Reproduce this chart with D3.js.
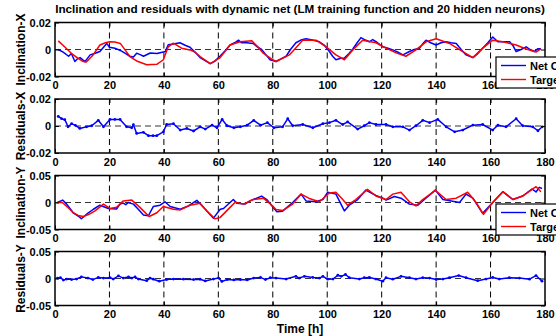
<!DOCTYPE html>
<html>
<head>
<script src="https://cdn.jsdelivr.net/npm/d3@7"></script>
<style>
  body { margin: 0; background: #fff; }
  text { font-family: "Liberation Sans", Arial, sans-serif; font-weight: bold; }
</style>
</head>
<body>
<script>
// [time h, value] pairs
var incXNet = [[1.2,0],[3,-0.002],[5,-0.005],[6,-0.003],[7.3,-0.0089],[8.2,-0.007],[9.2,-0.006],[11,-0.009],[12.9,-0.004],[14.5,-0.003],[16.5,-0.0015],[19,0.0045],[20,0.0017],[22,0.001],[24,-0.0007],[26,-0.003],[27.5,-0.005],[28.8,-0.0055],[30,-0.0027],[31.5,-0.004],[32.5,-0.005],[35,-0.0026],[37.4,-0.003],[39.8,-0.0018],[40.5,-0.0015],[41.6,0.0035],[43.5,0.004],[45.9,0.005],[48,0.003],[49.6,0.0017],[51.5,-0.002],[53.3,-0.006],[55,-0.008],[57,-0.0105],[58.5,-0.009],[60.6,-0.005],[62.5,-0.001],[64.3,0.0033],[66,0.005],[67.4,0.0069],[68.5,0.005],[70.4,0.005],[72.8,0.0045],[74.3,0.002],[75.9,0],[77.5,-0.004],[79,-0.0076],[81.2,-0.0089],[83,-0.007],[84.9,-0.005],[86.5,0],[88.5,0.005],[90.3,0.007],[92.2,0.008],[94.5,0.007],[97.1,0.0057],[99,0.003],[100.8,-0.0015],[102,-0.005],[103.2,-0.0076],[105,-0.0065],[106.3,-0.0064],[108,-0.003],[109.4,0.0004],[111,0.005],[112.4,0.0088],[114,0.007],[115.5,0.0057],[116.7,0.0074],[118.5,0.005],[120.4,0.002],[122.3,0.001],[124.1,-0.0003],[126,-0.002],[127.8,-0.004],[130.2,-0.0015],[132,0],[133.9,0.001],[135,0.004],[136.3,0.0069],[138,0.005],[140,0.0033],[141.8,0.005],[143.7,0.0057],[145.5,0.005],[147.4,0.0045],[149.2,0],[151,-0.004],[153.5,-0.006],[155.3,-0.003],[157.1,0.001],[159,0.005],[160.8,0.0093],[162.7,0.0057],[165,0.0057],[167,0.0057],[168.2,0.003],[169.4,-0.0015],[171.2,0],[173.1,0.002],[174.5,0],[176.1,-0.0015],[177.3,0.0005],[178.5,0.0006]];
var incXTarget = [[1.2,0.0064],[3.5,0.002],[6,-0.0028],[8.5,-0.0065],[10.4,-0.0089],[11.5,-0.0092],[14,-0.004],[16.5,0.0033],[18.5,0.005],[20,0.0057],[22,0.0055],[24,0.0045],[26,-0.001],[27.5,-0.0052],[30,-0.0085],[33.7,-0.0113],[37.4,-0.011],[39.8,-0.0076],[41.6,0.002],[43.5,0.0047],[46.5,0.001],[49.6,-0.0003],[51.5,-0.002],[53.3,-0.0052],[57,-0.0105],[60.6,-0.0062],[64.3,0.0033],[68,0.0057],[72.3,0.0064],[74.5,0.002],[76.5,-0.0027],[80,-0.0076],[81.2,-0.0089],[86.1,-0.004],[91,0.0069],[95.9,0.0069],[99.6,0.002],[103.2,-0.004],[106.3,-0.0076],[109.4,-0.0003],[113,0.0069],[117.9,0.005],[121.6,0.001],[125.3,-0.0025],[128.9,-0.005],[132.6,-0.0003],[136.3,0.0057],[140,0.008],[144.9,0.0045],[149.8,-0.0015],[153.5,-0.006],[157.1,0.001],[160.8,0.0069],[164.5,0.0057],[169.4,0.0033],[173.1,0.0004],[176.7,-0.0019],[178.5,0.0004]];
var resX = [[1.2,0.0071],[2.4,0.0054],[3.6,0.0047],[4.8,-0.0006],[6.1,0.0017],[7.5,0.0005],[9.1,-0.0018],[11.6,-0.0006],[13.5,0.0002],[15.9,0.0042],[17.8,-0.0006],[20.2,0.0049],[22,0.0049],[23.9,0.0049],[26.3,-0.0006],[28.2,-0.0013],[28.8,0.001],[30,-0.0055],[32.5,-0.0047],[34.3,-0.0072],[36,-0.0072],[37.4,-0.0072],[39.8,-0.0043],[41,0.0011],[43.5,0.0017],[46,-0.003],[48.4,-0.0018],[50.9,-0.0037],[53.3,-0.0006],[55.2,-0.0023],[57.7,0.0006],[59.5,-0.0013],[61.4,0.0049],[63.2,0.0002],[65.7,-0.0013],[68.1,-0.0006],[70.6,0.0006],[73,0.0042],[75.5,0.0006],[78,0.0025],[80.4,-0.0013],[83.6,-0.0006],[85.5,0.0054],[87.3,0.0002],[91,0.0011],[94.7,-0.0013],[98.4,0.0017],[100.8,0.0025],[103.2,0.0042],[105.7,0.0011],[107.5,0.003],[111.2,-0.0023],[113.6,0.0002],[115.5,0.0025],[117.9,0.0011],[121.6,0.0011],[124.1,-0.0006],[127.8,-0.0006],[130.2,-0.003],[132.6,0.0002],[135.1,0.0042],[137.6,0.0025],[140.6,0.0049],[143.7,-0.0006],[146.8,-0.0043],[149.8,-0.003],[153.5,0.0006],[157.1,0.0011],[160.8,-0.003],[162.7,0.0006],[165.7,-0.0006],[169.4,0.0054],[171.8,0.0002],[175.5,-0.0006],[177.4,-0.0035],[179,-0.0006]];
var incYNet = [[0.9,0],[2.8,0.0045],[4.3,-0.003],[6.7,-0.019],[8.5,-0.025],[9.7,-0.03],[12,-0.02],[14.1,-0.0125],[16.5,-0.005],[19.6,-0.011],[22.6,-0.012],[23.9,-0.003],[25,-0.001],[26,-0.004],[26.9,0],[28.8,-0.003],[30.5,-0.012],[32.5,-0.023],[34.3,-0.0245],[36.1,-0.0075],[38.6,-0.005],[40.4,0.0013],[42.3,-0.0075],[46,-0.0125],[49,-0.0063],[52.1,0.004],[55.2,-0.0125],[58.2,-0.029],[60.7,-0.0125],[61.9,-0.011],[65.5,0.0055],[66.8,-0.0013],[69.8,-0.003],[71.6,0.003],[75.9,0.0118],[77.8,0.0055],[79.5,-0.005],[81.5,-0.017],[83.6,-0.016],[87.3,0],[90.4,0.0155],[92.2,0.003],[95.9,0.0013],[98.4,0.0055],[100.2,0.019],[103.2,0.0155],[106.3,-0.0156],[108.1,-0.005],[111.2,0.0055],[114.2,0.023],[117.9,0.013],[120.4,0.008],[121.6,0.0045],[124.7,0.011],[127.1,0.008],[130.2,-0.003],[133.3,-0.005],[135.7,0.0055],[139.7,0.023],[142.5,0.0055],[148.6,0],[151,0.0155],[153.5,0.008],[157.1,-0.02],[160.8,0],[164.5,0.02],[168.2,0.0055],[171.8,0.012],[175.2,0.025],[176.7,0.0195],[177.9,0.028],[178.9,0.026]];
var incYTarget = [[0.9,0],[2.7,0],[4.5,-0.008],[6.7,-0.019],[8.5,-0.024],[10.4,-0.026],[12.5,-0.022],[14.7,-0.0156],[17.8,-0.003],[20.2,-0.011],[22.6,-0.009],[25.1,0.003],[28.2,0.0045],[31.2,-0.009],[34.6,-0.026],[37.4,-0.019],[39.8,-0.0075],[43.5,-0.0125],[46,-0.0137],[49.6,-0.005],[53.3,-0.0013],[55.8,-0.0156],[58.8,-0.03],[60.6,-0.028],[64.3,-0.009],[66.2,0.0005],[69.2,-0.003],[72.8,0.0055],[76.5,0.008],[79,-0.002],[81.2,-0.013],[83.6,-0.015],[87.3,-0.003],[90.4,0.0155],[93.4,0.0075],[97.1,0.0013],[100.8,0.0175],[103.2,0.019],[105.7,0.0055],[107.5,-0.005],[110.5,0.0055],[114.8,0.0243],[117.9,0.012],[121.6,0.0055],[124.1,0.0155],[127.1,0.019],[130.2,0.0013],[132.6,-0.0063],[135.1,0.0055],[139.7,0.0225],[143.7,0.0055],[147.4,0.008],[151.6,0.019],[154.7,0],[157.4,-0.022],[160.8,0],[164.5,0.02],[168.2,0.0055],[171.8,0.012],[176.7,0.0293],[178.5,0.02]];
var resY = [[0.9,0.0008],[2,0.0015],[3.1,-0.003],[4.3,-0.001],[6.1,-0.002],[7.9,-0.001],[9.7,0.003],[12.1,0.0008],[13.9,-0.002],[15.9,0.002],[17.8,0.0008],[20.2,0.0015],[21.4,-0.001],[23.3,0.0048],[25.1,0.0008],[27,0.003],[28.2,0.0008],[29.4,0.003],[30.6,-0.001],[33.7,-0.004],[34.9,0.0008],[36.1,-0.0013],[38.3,-0.005],[41,-0.002],[43.5,-0.001],[47.2,-0.0013],[50.9,-0.002],[53.3,-0.0013],[55.2,-0.0045],[58.2,-0.001],[60.1,0.0008],[61.3,-0.0055],[63.2,-0.002],[65.7,-0.0026],[68.1,-0.002],[70.6,-0.0026],[73,0.0008],[75.5,0.002],[77.3,-0.002],[79.1,0.0015],[81.2,0.0008],[84.9,-0.001],[88.5,0.004],[89.7,0.0008],[91.6,0.004],[94.7,0.002],[97.1,0.0008],[98.4,0.004],[100.2,-0.0013],[102.1,-0.001],[103.9,0.006],[105.1,0.004],[106.7,0.0075],[108.1,0.0015],[111.8,-0.001],[113.6,0.0015],[115.5,0.002],[117.9,-0.001],[120.4,-0.005],[121.6,0.0015],[124.1,-0.0013],[127.1,0.004],[130.2,0.0015],[132.6,-0.001],[135.1,0.0015],[137.6,0.0008],[140,-0.002],[142.5,-0.001],[144.9,0.0015],[148.3,0.0055],[151,0.0015],[155.3,-0.004],[158.3,-0.001],[160.8,0.002],[163.2,-0.001],[166.9,0.0015],[170.6,0.0008],[174.3,-0.0013],[176.7,0.0055],[178.9,-0.005]];

var xTicks = [0,20,40,60,80,100,120,140,160,180];
var yLabels = ["Inclination-X","Residuals-X","Inclination-Y","Residuals-Y"];
var yLimits = [0.02,0.02,0.05,0.05];
var legendNames = ["Net Output","Target"];
var titleText = "Inclination and residuals with dynamic net (LM training function and 20 hidden neurons)";

var W = 556, H = 336;
var left = 55, plotW = 490, plotH = 54;
var tops = [22.5, 99, 175.5, 251.5];

var panels = [
  {series: [{d: incXNet, c: "#0000ff"}, {d: incXTarget, c: "#ff0000"}], legend: true},
  {series: [{d: resX, c: "#0000ff", dots: true}]},
  {series: [{d: incYNet, c: "#0000ff"}, {d: incYTarget, c: "#ff0000"}], legend: true},
  {series: [{d: resY, c: "#0000ff", dots: true}]}
];

var svg = d3.select("body").append("svg").attr("width", W).attr("height", H);
svg.append("rect").attr("width", W).attr("height", H).attr("fill", "#fff");

var x = d3.scaleLinear().domain([0,180]).range([0, plotW]);

panels.forEach(function(p, i) {
  var lim = yLimits[i];
  var y = d3.scaleLinear().domain([-lim, lim]).range([plotH, 0]);
  var g = svg.append("g").attr("transform", "translate(" + left + "," + tops[i] + ")");

  g.append("clipPath").attr("id", "clip" + i)
    .append("rect").attr("width", plotW).attr("height", plotH);

  // grid
  g.selectAll("line.vgrid").data(xTicks.slice(1, -1)).enter().append("line")
    .attr("x1", d => x(d)).attr("x2", d => x(d))
    .attr("y1", 0).attr("y2", plotH)
    .attr("stroke", "#000").attr("stroke-width", 1).attr("stroke-dasharray", "6,4");
  g.append("line")
    .attr("x1", 0).attr("x2", plotW).attr("y1", y(0)).attr("y2", y(0))
    .attr("stroke", "#333").attr("stroke-width", 1).attr("stroke-dasharray", "6,4");

  var line = d3.line().x(d => x(d[0])).y(d => y(d[1]));
  p.series.forEach(function(s) {
    g.append("path").datum(s.d)
      .attr("clip-path", "url(#clip" + i + ")")
      .attr("fill", "none").attr("stroke", s.c).attr("stroke-width", 1.5)
      .attr("stroke-linejoin", "round")
      .attr("d", line);
    if (s.dots) {
      g.selectAll("circle.dot").data(s.d).enter().append("circle")
        .attr("cx", d => x(d[0])).attr("cy", d => y(d[1]))
        .attr("r", 1.4).attr("fill", s.c);
    }
  });

  // axes (ticks inward, like the original)
  var xa = g.append("g").attr("transform", "translate(0," + plotH + ")")
    .call(d3.axisBottom(x).tickValues(xTicks).tickSize(-4).tickPadding(5));
  var xt = g.append("g").call(d3.axisTop(x).tickValues(xTicks).tickSize(-4).tickFormat(""));
  var ya = g.append("g")
    .call(d3.axisLeft(y).tickValues([-lim, 0, lim]).tickSize(-4).tickPadding(4)
      .tickFormat(d => d === 0 ? "0" : String(d)));
  var yr = g.append("g").attr("transform", "translate(" + plotW + ",0)")
    .call(d3.axisRight(y).tickValues([-lim, 0, lim]).tickSize(-4).tickFormat(""));
  [xa, xt, ya, yr].forEach(function(a) {
    a.select(".domain").remove();
    a.selectAll("text").attr("font-size", 11).attr("fill", "#000")
      .style("font-family", "'Liberation Sans', Arial, sans-serif").style("font-weight", "bold");
    a.selectAll("line").attr("stroke", "#000");
  });

  g.append("rect").attr("width", plotW).attr("height", plotH)
    .attr("fill", "none").attr("stroke", "#000").attr("stroke-width", 1.5);

  svg.append("text")
    .attr("transform", "translate(25," + (tops[i] + plotH / 2) + ") rotate(-90)")
    .attr("text-anchor", "middle").attr("font-size", 12)
    .text(yLabels[i]);
});

// legends drawn last so they sit over tick labels
var legendTops = [57, 204];
[0, 2].forEach(function(pi, k) {
  var lg = svg.append("g").attr("transform", "translate(496," + legendTops[k] + ")");
  lg.append("rect").attr("width", 90).attr("height", 31)
    .attr("fill", "#fff").attr("stroke", "#000").attr("stroke-width", 1.2);
  panels[pi].series.forEach(function(s, j) {
    var ly = 8.5 + j * 14;
    lg.append("line").attr("x1", 5).attr("x2", 30).attr("y1", ly).attr("y2", ly)
      .attr("stroke", s.c).attr("stroke-width", 1.4);
    lg.append("text").attr("x", 34).attr("y", ly + 4).attr("font-size", 11)
      .text(legendNames[j]);
  });
});

svg.append("text").attr("x", left + plotW / 2).attr("y", 13)
  .attr("text-anchor", "middle").attr("font-size", 11.7).text(titleText);

svg.append("text").attr("x", left + plotW / 2).attr("y", 333)
  .attr("text-anchor", "middle").attr("font-size", 12).text("Time [h]");
</script>
</body>
</html>
